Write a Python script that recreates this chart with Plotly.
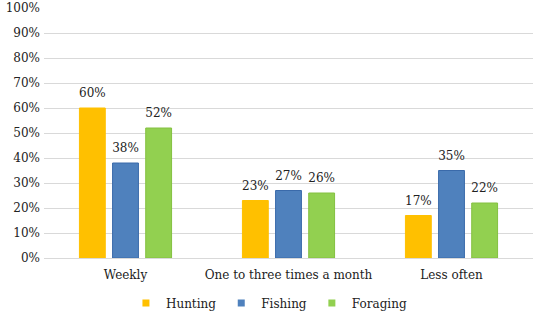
import plotly.graph_objects as go

categories = ["Weekly", "One to three times a month", "Less often"]
hunting = [60, 23, 17]
fishing = [38, 27, 35]
foraging = [52, 26, 22]
y_ticks = list(range(0, 101, 10))
y_tick_labels = [f"{v}%" for v in y_ticks]

FONT = "DejaVu Serif, Liberation Serif, serif"
FS = 12
GAP = 0.39

series = [
    ("Hunting", hunting, "#FFC000", "#FFC000"),
    ("Fishing", fishing, "#4F81BD", "#3A6AAA"),
    ("Foraging", foraging, "#92D050", "#84C040"),
]

fig = go.Figure()
for name, vals, col, line in series:
    fig.add_trace(go.Bar(
        name=name, x=categories, y=vals, legendgroup=name, showlegend=False,
        offsetgroup=name,
        marker=dict(color=col, line=dict(color=line, width=1)),
        hoverinfo="skip",
    ))
for name, vals, col, line in series:
    # value labels above bars
    fig.add_trace(go.Scatter(
        name=name, x=categories, y=vals, legendgroup=name, showlegend=False,
        offsetgroup=name, mode="markers+text",
        marker=dict(size=11, opacity=0, color=col),
        text=[f"{v}%" for v in vals], textposition="top center",
        textfont=dict(family=FONT, size=FS, color="#222"),
        cliponaxis=False, hoverinfo="skip",
    ))
for name, vals, col, line in series:
    # legend entries
    fig.add_trace(go.Scatter(
        name=name, x=[categories[0]], y=[None], legendgroup=name, mode="markers",
        offsetgroup=name,
        marker=dict(symbol="square", size=7, color=col), showlegend=True,
    ))

fig.update_layout(
    width=536, height=314,
    margin=dict(l=44, r=3, t=8, b=56, autoexpand=False),
    paper_bgcolor="white", plot_bgcolor="white",
    barmode="group", bargap=GAP, bargroupgap=0.22,
    scattermode="group", scattergap=GAP,
    font=dict(family=FONT, size=FS, color="#222"),
    showlegend=True,
    legend=dict(orientation="h", x=0.46, xanchor="center", y=(314 - 303) / 314,
                yref="container", yanchor="middle", font=dict(family=FONT, size=FS),
                itemwidth=30, traceorder="normal", tracegroupgap=0),
    yaxis=dict(range=[0, 100], tickvals=y_ticks, ticktext=y_tick_labels,
               showgrid=True, gridcolor="#D9D9D9", gridwidth=1, zeroline=False,
               ticks="", showline=False, automargin=False, ticklabelstandoff=3),
    xaxis=dict(showline=True, linecolor="#D9D9D9", ticks="", showgrid=False,
               automargin=False, ticklabelstandoff=6),
)

fig.write_html("out.html", config={"displayModeBar": False},
               post_script="document.body.style.margin='0';")
